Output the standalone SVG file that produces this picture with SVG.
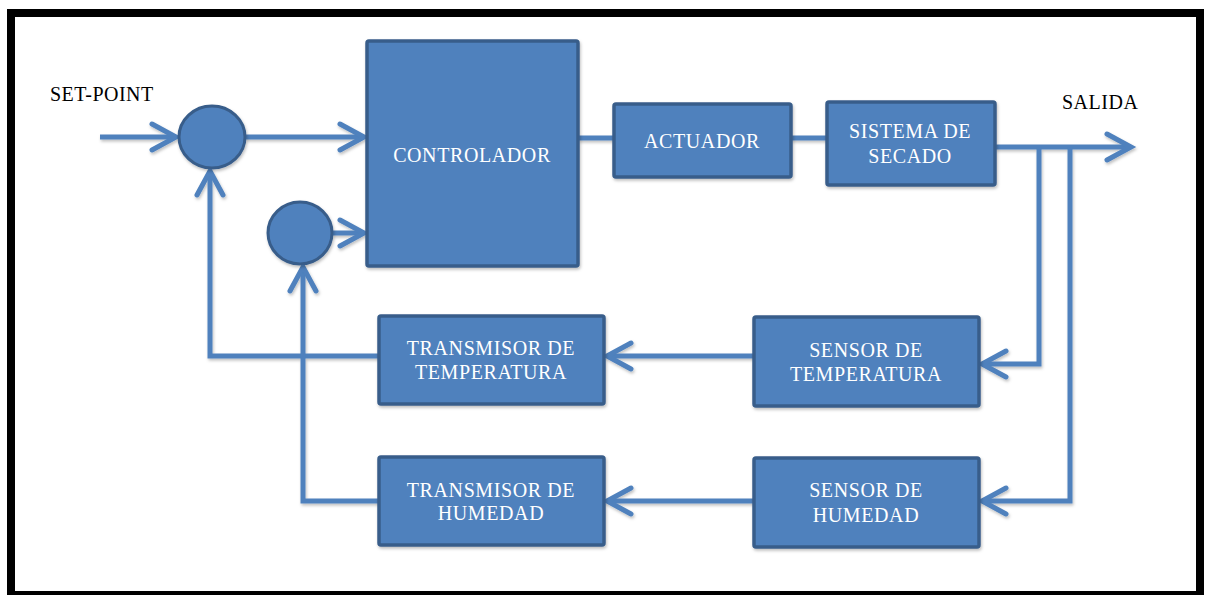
<svg xmlns="http://www.w3.org/2000/svg" width="1205" height="595" viewBox="0 0 1205 595">
  <defs>
    <style>
      .box { fill: #4F81BD; stroke: #385D8A; stroke-width: 3.5; }
      .sum { fill: #4F81BD; stroke: #385D8A; stroke-width: 3; }
      .wt { font-family: "Liberation Serif", "Times New Roman", serif; font-size: 20px; fill: #FFFFFF; text-anchor: middle; letter-spacing: 0.6px; }
      .lbl { font-family: "Liberation Serif", "Times New Roman", serif; font-size: 20px; fill: #000000; letter-spacing: 0.5px; }
      .ln { fill: none; stroke: #4F81BD; stroke-width: 5; stroke-linejoin: miter; }
    </style>
    <marker id="arr" markerUnits="userSpaceOnUse" markerWidth="40" markerHeight="40" refX="0" refY="0" viewBox="-30 -20 40 40" orient="auto" overflow="visible">
      <path d="M-24,-13 L0,0 L-24,13" fill="none" stroke="#4F81BD" stroke-width="5" stroke-linecap="round" stroke-linejoin="miter"/>
    </marker>
    <filter id="sh" x="-10%" y="-10%" width="130%" height="130%">
      <feDropShadow dx="1" dy="2" stdDeviation="1.5" flood-color="#000" flood-opacity="0.25"/>
    </filter>
  </defs>

  <rect x="0" y="0" width="1205" height="595" fill="#FFFFFF"/>
  <rect id="frame" x="11" y="13" width="1189" height="582" fill="#FFFFFF" stroke="#000000" stroke-width="8"/>

  <g id="connectors" filter="url(#sh)">
    <path class="ln" d="M100,137 H176" marker-end="url(#arr)"/>
    <path class="ln" d="M245,137 H364" marker-end="url(#arr)"/>
    <path class="ln" d="M332,233 H364" marker-end="url(#arr)"/>
    <path class="ln" d="M578,138 H614"/>
    <path class="ln" d="M791,138 H827"/>
    <path class="ln" d="M995,147 H1131" marker-end="url(#arr)"/>
    <path class="ln" d="M1039,147 V364 H982" marker-end="url(#arr)"/>
    <path class="ln" d="M1070,147 V501 H982" marker-end="url(#arr)"/>
    <path class="ln" d="M754,356 H607" marker-end="url(#arr)"/>
    <path class="ln" d="M754,501 H607" marker-end="url(#arr)"/>
    <path class="ln" d="M379,356 H210 V171" marker-end="url(#arr)"/>
    <path class="ln" d="M379,501 H303 V267" marker-end="url(#arr)"/>
  </g>

  <g id="setpoint">
    <text class="lbl" x="50" y="101">SET-POINT</text>
  </g>
  <g id="salida">
    <text class="lbl" x="1062" y="109">SALIDA</text>
  </g>

  <g id="sum1" filter="url(#sh)">
    <ellipse class="sum" cx="212" cy="137" rx="33" ry="31"/>
  </g>
  <g id="sum2" filter="url(#sh)">
    <ellipse class="sum" cx="300" cy="233" rx="32" ry="31"/>
  </g>

  <g id="controlador">
    <rect class="box" x="367" y="41" width="211" height="225" rx="2" filter="url(#sh)"/>
    <text class="wt" x="472" y="162">CONTROLADOR</text>
  </g>
  <g id="actuador">
    <rect class="box" x="614" y="104" width="177" height="73" rx="2" filter="url(#sh)"/>
    <text class="wt" x="702" y="148">ACTUADOR</text>
  </g>
  <g id="sistema">
    <rect class="box" x="827" y="102" width="168" height="83" rx="2" filter="url(#sh)"/>
    <text class="wt" x="910" y="138">SISTEMA DE</text>
    <text class="wt" x="910" y="163">SECADO</text>
  </g>
  <g id="transmisor-temperatura">
    <rect class="box" x="379" y="316" width="225" height="88" rx="2" filter="url(#sh)"/>
    <text class="wt" x="491" y="355">TRANSMISOR DE</text>
    <text class="wt" x="491" y="379">TEMPERATURA</text>
  </g>
  <g id="transmisor-humedad">
    <rect class="box" x="379" y="457" width="225" height="88" rx="2" filter="url(#sh)"/>
    <text class="wt" x="491" y="497">TRANSMISOR DE</text>
    <text class="wt" x="491" y="520">HUMEDAD</text>
  </g>
  <g id="sensor-temperatura">
    <rect class="box" x="754" y="317" width="225" height="89" rx="2" filter="url(#sh)"/>
    <text class="wt" x="866" y="357">SENSOR DE</text>
    <text class="wt" x="866" y="381">TEMPERATURA</text>
  </g>
  <g id="sensor-humedad">
    <rect class="box" x="754" y="458" width="225" height="89" rx="2" filter="url(#sh)"/>
    <text class="wt" x="866" y="497">SENSOR DE</text>
    <text class="wt" x="866" y="522">HUMEDAD</text>
  </g>
</svg>
